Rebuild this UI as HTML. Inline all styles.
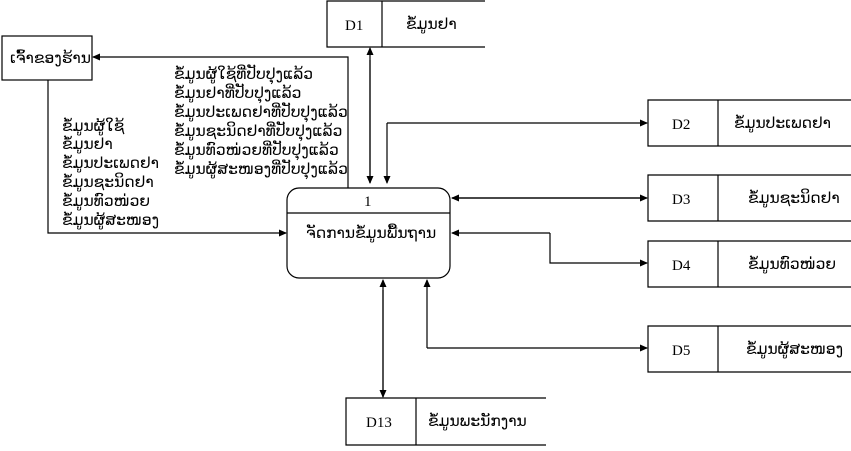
<!DOCTYPE html>
<html><head><meta charset="utf-8"><style>
html,body{margin:0;padding:0;background:#fff}
svg text{font-family:"Liberation Serif","DejaVu Sans",serif;fill:#000}
.l{font-family:"DejaVu Sans","Liberation Sans",sans-serif;font-size:15.5px}
</style></head><body>
<svg width="851" height="446" viewBox="0 0 851 446" xmlns="http://www.w3.org/2000/svg">
<defs><marker id="a" markerWidth="8" markerHeight="8" refX="7" refY="4" orient="auto" markerUnits="userSpaceOnUse"><path d="M0,0.5 L8,4 L0,7.5z" fill="#000"/></marker></defs>
<g stroke="#000" stroke-width="1.2" fill="none">
<path d="M485,1 H327 V47 H485 M382,1 V47"/>
<path d="M851,100 H648 V146 H851 M718,100 V146"/>
<path d="M851,175 H648 V221 H851 M718,175 V221"/>
<path d="M851,241 H648 V287 H851 M718,241 V287"/>
<path d="M851,326 H648 V372 H851 M718,326 V372"/>
<path d="M546,398 H346 V445 H546 M416,398 V445"/>
<rect x="2" y="36" width="90" height="44"/>
<rect x="287" y="188" width="163" height="90" rx="12"/>
<path d="M287,213 H450"/>
<path d="M348,188 V57 H93" marker-end="url(#a)"/>
<path d="M48,80 V233 H286" marker-end="url(#a)"/>
<path d="M370,183 V48" marker-end="url(#a)"/>
<path d="M370,60 V183" marker-end="url(#a)"/>
<path d="M387,123 V183" marker-end="url(#a)"/>
<path d="M387,123 H647" marker-end="url(#a)"/>
<path d="M452,198 H647" marker-end="url(#a)"/>
<path d="M640,198 H452" marker-end="url(#a)"/>
<path d="M550,233 H452" marker-end="url(#a)"/>
<path d="M550,233 V263 H647" marker-end="url(#a)"/>
<path d="M427,348 V280" marker-end="url(#a)"/>
<path d="M427,348 H647" marker-end="url(#a)"/>
<path d="M383,397 V280" marker-end="url(#a)"/>
<path d="M383,290 V397" marker-end="url(#a)"/>
</g>
<text x="345" y="30" font-size="15">D1</text>
<text x="406" y="29" class="l">ຂໍ້ມູນຢາ</text>
<text x="672" y="129" font-size="15">D2</text>
<text x="734" y="128" class="l">ຂໍ້ມູນປະເພດຢາ</text>
<text x="672" y="204" font-size="15">D3</text>
<text x="748" y="203" class="l">ຂໍ້ມູນຊະນິດຢາ</text>
<text x="672" y="270" font-size="15">D4</text>
<text x="748" y="269" class="l">ຂໍ້ມູນທົວໜ່ວຍ</text>
<text x="672" y="355" font-size="15">D5</text>
<text x="746" y="354" class="l">ຂໍ້ມູນຜູ້ສະໜອງ</text>
<text x="366" y="427" font-size="15">D13</text>
<text x="428" y="426" class="l">ຂໍ້ມູນພະນັກງານ</text>
<text x="10" y="63" class="l">ເຈົ້າຂອງຮ້ານ</text>
<text x="364" y="206" font-size="15">1</text>
<text x="306" y="238" class="l">ຈັດການຂໍ້ມູນພື້ນຖານ</text>
<g class="l">
<text x="62" y="131">ຂໍ້ມູນຜູ້ໃຊ້</text>
<text x="62" y="149">ຂໍ້ມູນຢາ</text>
<text x="62" y="168">ຂໍ້ມູນປະເພດຢາ</text>
<text x="62" y="187">ຂໍ້ມູນຊະນິດຢາ</text>
<text x="62" y="206">ຂໍ້ມູນທົວໜ່ວຍ</text>
<text x="62" y="225">ຂໍ້ມູນຜູ້ສະໜອງ</text>
<text x="174" y="79">ຂໍ້ມູນຜູ້ໃຊ້ທີ່ປັບປຸງແລ້ວ</text>
<text x="174" y="98">ຂໍ້ມູນຢາທີ່ປັບປຸງແລ້ວ</text>
<text x="174" y="117">ຂໍ້ມູນປະເພດຢາທີ່ປັບປຸງແລ້ວ</text>
<text x="174" y="136">ຂໍ້ມູນຊະນິດຢາທີ່ປັບປຸງແລ້ວ</text>
<text x="174" y="155">ຂໍ້ມູນທົວໜ່ວຍທີ່ປັບປຸງແລ້ວ</text>
<text x="174" y="174">ຂໍ້ມູນຜູ້ສະໜອງທີ່ປັບປຸງແລ້ວ</text>
</g>
</svg>
</body></html>
